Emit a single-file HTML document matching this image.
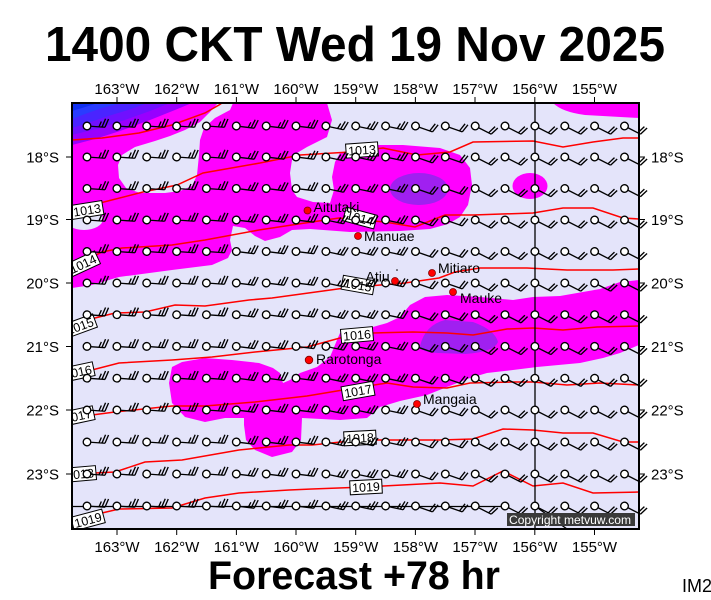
<!DOCTYPE html>
<html><head><meta charset="utf-8">
<style>html,body{margin:0;padding:0;background:#fff}svg{display:block}</style>
</head><body>
<svg width="711" height="600" viewBox="0 0 711 600" xmlns="http://www.w3.org/2000/svg" xmlns:xlink="http://www.w3.org/1999/xlink" font-family="'Liberation Sans', Arial, sans-serif">
<defs>
<clipPath id="cp"><rect x="72" y="103" width="567" height="426"/></clipPath>
<g id="b3" fill="none" stroke="#000" stroke-width="1.35"><path d="M3.6 0H18M18 0l3-8.5M15 0l3-8.5M12 0l2-5.5"/><circle r="3.8" fill="#fff"/></g>
<g id="b2" fill="none" stroke="#000" stroke-width="1.35"><path d="M3.6 0H18M18 0l3-8.5M15 0l3-8.5"/><circle r="3.8" fill="#fff"/></g>
<g id="kA" transform="rotate(4)"><use href="#b3"/></g>
<g id="kB" transform="rotate(7)"><use href="#b3"/></g>
<g id="kC" transform="rotate(12)"><use href="#b3"/></g>
<g id="kD" transform="rotate(19)"><use href="#b2"/></g>
<g id="kE" transform="rotate(27)"><use href="#b2"/></g>
<g id="cA"><use href="#kA" y="126"/><use href="#kA" y="157"/><use href="#kA" y="188.5"/><use href="#kA" y="220"/><use href="#kA" y="251.5"/><use href="#kA" y="283"/><use href="#kA" y="314.7"/><use href="#kA" y="346.4"/><use href="#kA" y="378.2"/><use href="#kA" y="410"/><use href="#kA" y="442"/><use href="#kA" y="474"/><use href="#kA" y="506"/></g>
<g id="cB"><use href="#kB" y="126"/><use href="#kB" y="157"/><use href="#kB" y="188.5"/><use href="#kB" y="220"/><use href="#kB" y="251.5"/><use href="#kB" y="283"/><use href="#kB" y="314.7"/><use href="#kB" y="346.4"/><use href="#kB" y="378.2"/><use href="#kB" y="410"/><use href="#kB" y="442"/><use href="#kB" y="474"/><use href="#kB" y="506"/></g>
<g id="cC"><use href="#kC" y="126"/><use href="#kC" y="157"/><use href="#kC" y="188.5"/><use href="#kC" y="220"/><use href="#kC" y="251.5"/><use href="#kC" y="283"/><use href="#kC" y="314.7"/><use href="#kC" y="346.4"/><use href="#kC" y="378.2"/><use href="#kC" y="410"/><use href="#kC" y="442"/><use href="#kC" y="474"/><use href="#kC" y="506"/></g>
<g id="cD"><use href="#kD" y="126"/><use href="#kD" y="157"/><use href="#kD" y="188.5"/><use href="#kD" y="220"/><use href="#kD" y="251.5"/><use href="#kD" y="283"/><use href="#kD" y="314.7"/><use href="#kD" y="346.4"/><use href="#kD" y="378.2"/><use href="#kD" y="410"/><use href="#kD" y="442"/><use href="#kD" y="474"/><use href="#kD" y="506"/></g>
<g id="cE"><use href="#kE" y="126"/><use href="#kE" y="157"/><use href="#kE" y="188.5"/><use href="#kE" y="220"/><use href="#kE" y="251.5"/><use href="#kE" y="283"/><use href="#kE" y="314.7"/><use href="#kE" y="346.4"/><use href="#kE" y="378.2"/><use href="#kE" y="410"/><use href="#kE" y="442"/><use href="#kE" y="474"/><use href="#kE" y="506"/></g>
</defs>

<rect width="711" height="600" fill="#fff"/>

<text x="355" y="61" font-size="49" font-weight="bold" text-anchor="middle" textLength="620" lengthAdjust="spacingAndGlyphs">1400 CKT Wed 19 Nov 2025</text>

<g clip-path="url(#cp)">
<rect x="72" y="103" width="567" height="426" fill="#e4e4fa"/>
<path fill="#ff00ff" d="M72,103 L327,103 L332,120 L327,137 L307,147 L297,153 L292,160 L290,173 L292,190 L297,197 L313,202 L330,203 L334,190 L332,177 L335,162 L340,153 L367,145 L403,145 L440,148 L460,155 L470,168 L472,185 L468,205 L460,217 L448,224 L430,229 L400,231 L350,232 L310,229 L292,230 L280,237 L265,241 L255,236 L245,228 L233,226 L230,240 L232,250 L228,258 L212,265 L172,270 L119,277 L92,285 L72,288 Z"/>
<path fill="#e4e4fa" d="M218,103 L233,103 L230,110 L215,118 L204,128 L200,140 L199,155 L197,175 L192,186 L180,191 L165,193 L140,193 L126,188 L119,178 L118,165 L122,155 L135,147 L155,141 L170,136 L185,130 L200,122 L210,112 Z"/>
<ellipse cx="84" cy="219" rx="19" ry="11" fill="#e4e4fa"/>
<path fill="#9900ff" d="M72,103 L192,103 L175,110 L150,120 L120,131 L95,139 L72,145 Z"/>
<path fill="#7010ff" d="M72,103 L170,103 L150,111 L125,120 L100,128 L72,135 Z"/>
<path fill="#4a24ff" d="M72,103 L148,103 L128,110 L105,117 L85,124 L72,128 Z"/>
<path fill="#2a3cff" d="M72,103 L122,103 L102,108 L85,114 L72,119 Z"/>
<path fill="#1030f0" d="M72,103 L98,103 L82,108 L72,111 Z"/>
<ellipse cx="419" cy="189" rx="29" ry="16" fill="#a020f0"/>
<path fill="#ff00ff" d="M553,103 Q562,112 585,115 L639,118 L639,103 Z"/>
<ellipse cx="530" cy="186" rx="17.5" ry="13" fill="#ff00ff"/>
<path fill="#ff00ff" d="M169,383 L172,367 L182,362 L205,358 L232,360 L259,363 L273,368 L280,373 L283,383 L290,380 L300,373 L317,367 L330,357 L337,340 L340,333 L373,327 L387,323 L400,317 L410,305 L425,297 L447,295 L480,297 L513,300 L533,297 L560,296 L600,289 L620,282 L639,280 L639,345 L620,353 L603,358 L580,363 L537,367 L513,370 L487,373 L470,378 L447,387 L427,395 L400,401 L380,407 L367,418 L340,420 L302,418 L301,440 L292,452 L272,457 L255,450 L246,440 L244,425 L244,418 L225,418 L205,422 L185,417 L172,403 Z"/>
<path fill="#a020f0" d="M420,346 Q425,325 445,320 L473,322 Q495,330 498,342 Q494,352 465,354 L438,353 Q420,352 420,346 Z"/>

<g fill="none" stroke="#ff0000" stroke-width="1.5">
<polyline points="72,140 102,138 139,133 172,125 205,113 219,105 222,103"/>
<polyline points="72,212 100,203 143,192 177,185 203,173 260,163 300,155 350,152 383,148 417,155 450,152 473,142 533,141 563,147 593,142 623,138 639,138"/>
<polyline points="72,267 102,252 122,248 172,245 205,240 259,230 305,223 339,218 385,222 415,227 445,215 473,215 533,213 563,208 593,208 623,218 639,219"/>
<polyline points="72,332 95,318 115,313 145,312 175,305 205,306 249,300 272,298 345,288 405,283 439,278 455,272 480,268 527,268 567,270 613,270 639,269"/>
<polyline points="72,372 92,370 119,363 172,360 212,357 255,352 307,347 340,338 373,333 413,332 447,333 473,335 507,329 533,328 563,330 597,327 639,326"/>
<polyline points="72,418 92,415 115,412 172,406 205,406 255,402 307,396 343,390 387,383 413,387 447,388 470,383 513,382 533,382 567,385 600,383 639,385"/>
<polyline points="72,475 95,473 115,472 145,462 182,460 239,450 289,445 312,445 360,440 440,440 473,439 503,429 533,430 563,433 593,433 623,442 639,442"/>
<polyline points="72,522 102,513 119,509 172,508 205,498 239,493 289,490 312,489 365,487 440,483 473,486 503,471 533,486 563,483 593,493 639,492"/>
</g>

<g stroke="#000" stroke-width="1.3" fill="none">
<path d="M535,103 V529"/>
<path d="M72,506.5 H505"/>
<path d="M535,506 L567,529"/>
</g>

<g font-size="12.5" text-anchor="middle">
<g transform="translate(87,210) rotate(-9)"><rect x="-16" y="-7" width="32" height="14" fill="#fff" stroke="#000"/><text y="4.5">1013</text></g>
<g transform="translate(83,264) rotate(-25)"><rect x="-16" y="-7" width="32" height="14" fill="#fff" stroke="#000"/><text y="4.5">1014</text></g>
<g transform="translate(80,326) rotate(-20)"><rect x="-16" y="-7" width="32" height="14" fill="#fff" stroke="#000"/><text y="4.5">1015</text></g>
<g transform="translate(78,372) rotate(-12)"><rect x="-16" y="-7" width="32" height="14" fill="#fff" stroke="#000"/><text y="4.5">1016</text></g>
<g transform="translate(78,416) rotate(-12)"><rect x="-16" y="-7" width="32" height="14" fill="#fff" stroke="#000"/><text y="4.5">1017</text></g>
<g transform="translate(80,474) rotate(-5)"><rect x="-16" y="-7" width="32" height="14" fill="#fff" stroke="#000"/><text y="4.5">1018</text></g>
<g transform="translate(88,520) rotate(-15)"><rect x="-16" y="-7" width="32" height="14" fill="#fff" stroke="#000"/><text y="4.5">1019</text></g>
<g transform="translate(362,150) rotate(-4)"><rect x="-16" y="-7" width="32" height="14" fill="#fff" stroke="#000"/><text y="4.5">1013</text></g>
<g transform="translate(360,218) rotate(15)"><rect x="-16" y="-7" width="32" height="14" fill="#fff" stroke="#000"/><text y="4.5">1014</text></g>
<g transform="translate(358,285) rotate(10)"><rect x="-16" y="-7" width="32" height="14" fill="#fff" stroke="#000"/><text y="4.5">1015</text></g>
<g transform="translate(357,335) rotate(-5)"><rect x="-16" y="-7" width="32" height="14" fill="#fff" stroke="#000"/><text y="4.5">1016</text></g>
<g transform="translate(358,391) rotate(-10)"><rect x="-16" y="-7" width="32" height="14" fill="#fff" stroke="#000"/><text y="4.5">1017</text></g>
<g transform="translate(360,438) rotate(-3)"><rect x="-16" y="-7" width="32" height="14" fill="#fff" stroke="#000"/><text y="4.5">1018</text></g>
<g transform="translate(366,487) rotate(-3)"><rect x="-16" y="-7" width="32" height="14" fill="#fff" stroke="#000"/><text y="4.5">1019</text></g>
</g>
</g>

<use href="#cA" x="87"/><use href="#cA" x="116.9"/><use href="#cA" x="146.7"/><use href="#cA" x="176.6"/><use href="#cA" x="206.4"/>
<use href="#cB" x="236.3"/><use href="#cB" x="266.2"/><use href="#cB" x="296"/>
<use href="#cC" x="325.9"/><use href="#cC" x="355.7"/><use href="#cC" x="385.6"/>
<use href="#cD" x="415.5"/><use href="#cD" x="445.3"/>
<use href="#cE" x="475.2"/><use href="#cE" x="505"/><use href="#cE" x="534.9"/><use href="#cE" x="564.8"/><use href="#cE" x="594.6"/><use href="#cE" x="624.5"/>

<g fill="#ff0000" stroke="#800000" stroke-width="0.8">
<circle cx="307.5" cy="210.5" r="3.5"/>
<circle cx="358" cy="236" r="3.5"/>
<circle cx="395" cy="281" r="3.5"/>
<circle cx="432" cy="273" r="3.5"/>
<circle cx="453" cy="292" r="3.5"/>
<circle cx="309" cy="360" r="3.8"/>
<circle cx="417" cy="404" r="3.5"/>
</g>
<circle cx="397" cy="270" r="0.8" fill="#000"/>
<g font-size="14" fill="#000">
<text x="313.5" y="212">Aitutaki</text>
<text x="364" y="241">Manuae</text>
<text x="365.5" y="281.5">Atiu</text>
<text x="438" y="273">Mitiaro</text>
<text x="460" y="303">Mauke</text>
<text x="316" y="364">Rarotonga</text>
<text x="423" y="404">Mangaia</text>
</g>

<rect x="507" y="513" width="128" height="13" fill="#3a3a3a"/>
<text x="509" y="524" font-size="12" fill="#fff" textLength="122" lengthAdjust="spacingAndGlyphs">Copyright metvuw.com</text>

<rect x="72" y="103" width="567" height="426" fill="none" stroke="#000" stroke-width="2"/>

<path stroke="#000" stroke-width="1" fill="none" d="M117,97V103M176.7,97V103M236.4,97V103M296,97V103M355.7,97V103M415.4,97V103M475,97V103M534.8,97V103M594.5,97V103
M117,529V535M176.7,529V535M236.4,529V535M296,529V535M355.7,529V535M415.4,529V535M475,529V535M534.8,529V535M594.5,529V535
M66,157H72M66,219.5H72M66,283H72M66,346.5H72M66,410H72M66,474H72
M639,157H645M639,219.5H645M639,283H645M639,346.5H645M639,410H645M639,474H645"/>

<g font-size="15" text-anchor="middle">
<text x="117" y="94">163°W</text><text x="176.7" y="94">162°W</text><text x="236.4" y="94">161°W</text><text x="296" y="94">160°W</text><text x="355.7" y="94">159°W</text><text x="415.4" y="94">158°W</text><text x="475" y="94">157°W</text><text x="534.8" y="94">156°W</text><text x="594.5" y="94">155°W</text>
<text x="117" y="552">163°W</text><text x="176.7" y="552">162°W</text><text x="236.4" y="552">161°W</text><text x="296" y="552">160°W</text><text x="355.7" y="552">159°W</text><text x="415.4" y="552">158°W</text><text x="475" y="552">157°W</text><text x="534.8" y="552">156°W</text><text x="594.5" y="552">155°W</text>
</g>
<g font-size="15" text-anchor="end">
<text x="59" y="162.5">18°S</text><text x="59" y="225">19°S</text><text x="59" y="288.5">20°S</text><text x="59" y="352">21°S</text><text x="59" y="415.5">22°S</text><text x="59" y="479.5">23°S</text>
</g>
<g font-size="15">
<text x="651" y="162.5">18°S</text><text x="651" y="225">19°S</text><text x="651" y="288.5">20°S</text><text x="651" y="352">21°S</text><text x="651" y="415.5">22°S</text><text x="651" y="479.5">23°S</text>
</g>

<text x="354" y="589" font-size="40" font-weight="bold" text-anchor="middle" textLength="292" lengthAdjust="spacingAndGlyphs">Forecast +78 hr</text>
<text x="682" y="592" font-size="18">IM2</text>
</svg>
</body></html>
